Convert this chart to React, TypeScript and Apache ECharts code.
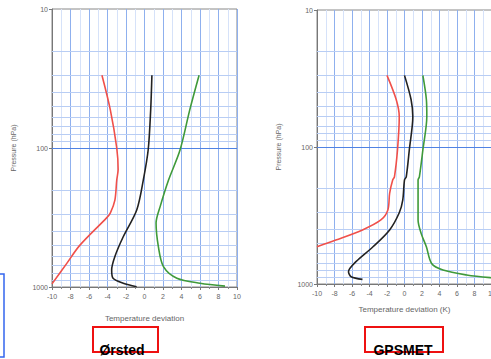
import React, { useEffect, useRef } from "react";
import * as echarts from "echarts";

// Temperature deviation (x) vs pressure in hPa (y)
const orstedRed: [number, number][] = [
  [-4.6, 30], [-3.7, 53], [-3.0, 100], [-2.85, 143], [-3.0, 170], [-3.2, 237],
  [-3.7, 294], [-4.1, 318], [-7.0, 502], [-8.4, 676], [-10.0, 950],
];
const orstedBlack: [number, number][] = [
  [0.8, 30], [0.67, 53], [0.4, 103], [-0.13, 170], [-0.84, 279], [-2.3, 435],
  [-3.2, 603], [-3.55, 755], [-3.4, 865], [-2.3, 939], [-0.85, 995],
];
const orstedGreen: [number, number][] = [
  [5.9, 30], [4.9, 53], [3.85, 103], [2.6, 170], [1.7, 263], [1.25, 347],
  [1.5, 513], [2.05, 714], [3.5, 865], [6.0, 939], [8.7, 985],
];
const gpsRed: [number, number][] = [
  [-2.0, 30], [-0.95, 45], [-0.6, 60], [-0.8, 105], [-1.15, 165], [-1.35, 174],
  [-1.7, 218], [-1.9, 288], [-2.7, 341], [-4.8, 403], [-7.85, 478], [-10.0, 535],
];
const gpsBlack: [number, number][] = [
  [0.0, 30], [0.75, 45], [0.95, 60], [0.55, 105], [0.2, 165], [0.0, 174],
  [-0.2, 244], [-0.6, 302], [-1.7, 403], [-3.6, 535], [-5.55, 687], [-6.4, 813],
  [-6.1, 885], [-4.8, 925],
];
const gpsGreen: [number, number][] = [
  [2.1, 30], [2.5, 45], [2.55, 60], [2.1, 105], [1.7, 165], [1.55, 174],
  [1.55, 341], [1.9, 427], [2.5, 535], [3.1, 708], [4.4, 791], [7.1, 859],
  [9.8, 899], [11.0, 905],
];
const pressureGridLines = [20, 30, 40, 50, 60, 70, 80, 90, 200, 300, 400, 500, 600, 700, 800, 900];
const majorPressureLine = 100;
const panelTitles = ["Ørsted", "GPSMET"];
const xAxisNames = ["Temperature deviation", "Temperature deviation (K)"];
const yAxisName = "Pressure (hPa)";

const FONT = "Liberation Sans, Arial, sans-serif";

export default function App() {
  const ref = useRef<HTMLDivElement>(null);
  useEffect(() => {
    if (!ref.current) return;
    const chart = echarts.init(ref.current, null, { renderer: "svg" });
    const grids = [
      { left: 52, top: 9, width: 185, height: 278 },
      { left: 317, top: 10, width: 175, height: 274 },
    ];
    const xAxis = [0, 1].map((i) => ({
      type: "value",
      gridIndex: i,
      min: -10,
      max: 10,
      interval: 2,
      name: xAxisNames[i],
      nameLocation: "middle",
      nameGap: i === 0 ? 27 : 21,
      nameTextStyle: { fontSize: 8, color: "#666", fontFamily: FONT },
      axisLine: { show: true, onZero: false, lineStyle: { color: "#777", width: 1 } },
      axisTick: { show: true, length: 3, lineStyle: { color: "#777" } },
      minorTick: { show: true, splitNumber: 2, length: 2, lineStyle: { color: "#888" } },
      axisLabel: { fontSize: 7, color: "#666", margin: 6, fontFamily: FONT },
      splitLine: { show: true, lineStyle: { color: "#8fb0ee", width: 1 } },
      minorSplitLine: { show: true, lineStyle: { color: "#d6e2f9", width: 1 } },
    }));
    const yAxis = [0, 1].map((i) => ({
      type: "log",
      logBase: 10,
      gridIndex: i,
      min: 10,
      max: 1000,
      inverse: true,
      name: yAxisName,
      nameLocation: "middle",
      nameGap: 35,
      nameTextStyle: { fontSize: 7, color: "#666", fontFamily: FONT },
      axisLine: { show: true, onZero: false, lineStyle: { color: "#777", width: 1 } },
      axisTick: { show: true, length: 3, lineStyle: { color: "#777" } },
      axisLabel: { fontSize: 7, color: "#666", margin: 4, fontFamily: FONT, formatter: (v: number) => String(Math.round(v)) },
      splitLine: { show: false },
    }));
    const mk = (data: [number, number][], color: string, i: number, grid: boolean) => ({
      type: "line",
      xAxisIndex: i,
      yAxisIndex: i,
      data,
      smooth: 0.3,
      symbol: "none",
      lineStyle: { color, width: 1.6 },
      z: 5,
      markLine: grid
        ? {
            silent: true,
            symbol: ["none", "none"],
            label: { show: false },
            lineStyle: { color: "#b8cdf4", type: "solid", width: 1 },
            z: 1,
            data: [
              ...pressureGridLines.map((p) => ({ yAxis: p })),
              { yAxis: majorPressureLine, lineStyle: { color: "#4f82e3", width: 1.2, type: "solid" } },
            ],
          }
        : undefined,
    });
    chart.setOption({
      animation: false,
      backgroundColor: "#fff",
      grid: grids.map((g) => ({
        ...g,
        outerBoundsMode: "none",
        containLabel: false,
        show: true,
        borderColor: "#888",
        borderWidth: 1,
        backgroundColor: "transparent",
      })),
      xAxis,
      yAxis,
      series: [
        mk(orstedRed, "#f0504a", 0, true),
        mk(orstedBlack, "#222", 0, false),
        mk(orstedGreen, "#3f9a3a", 0, false),
        mk(gpsRed, "#f0504a", 1, true),
        mk(gpsBlack, "#222", 1, false),
        mk(gpsGreen, "#3f9a3a", 1, false),
      ],
      graphic: [
        { type: "rect", shape: { x: -20, y: 274, width: 24, height: 83 }, style: { fill: "none", stroke: "#3366ee", lineWidth: 1.5 } },
        { type: "rect", shape: { x: 93, y: 327, width: 65, height: 25 }, style: { fill: "none", stroke: "#ee1111", lineWidth: 2 } },
        { type: "rect", shape: { x: 365, y: 327, width: 78, height: 25 }, style: { fill: "none", stroke: "#ee1111", lineWidth: 2 } },
        { type: "text", x: 122, y: 350, style: { text: panelTitles[0], font: `bold 14px ${FONT}`, fill: "#000", align: "center", verticalAlign: "middle" }, z: 10 },
        { type: "text", x: 403, y: 350, style: { text: panelTitles[1], font: `bold 14px ${FONT}`, fill: "#000", align: "center", verticalAlign: "middle" }, z: 10 },
      ],
    });
    return () => chart.dispose();
  }, []);
  return <div ref={ref} style={{ position: "fixed", left: 0, top: 0, width: 491, height: 359 }} />;
}
